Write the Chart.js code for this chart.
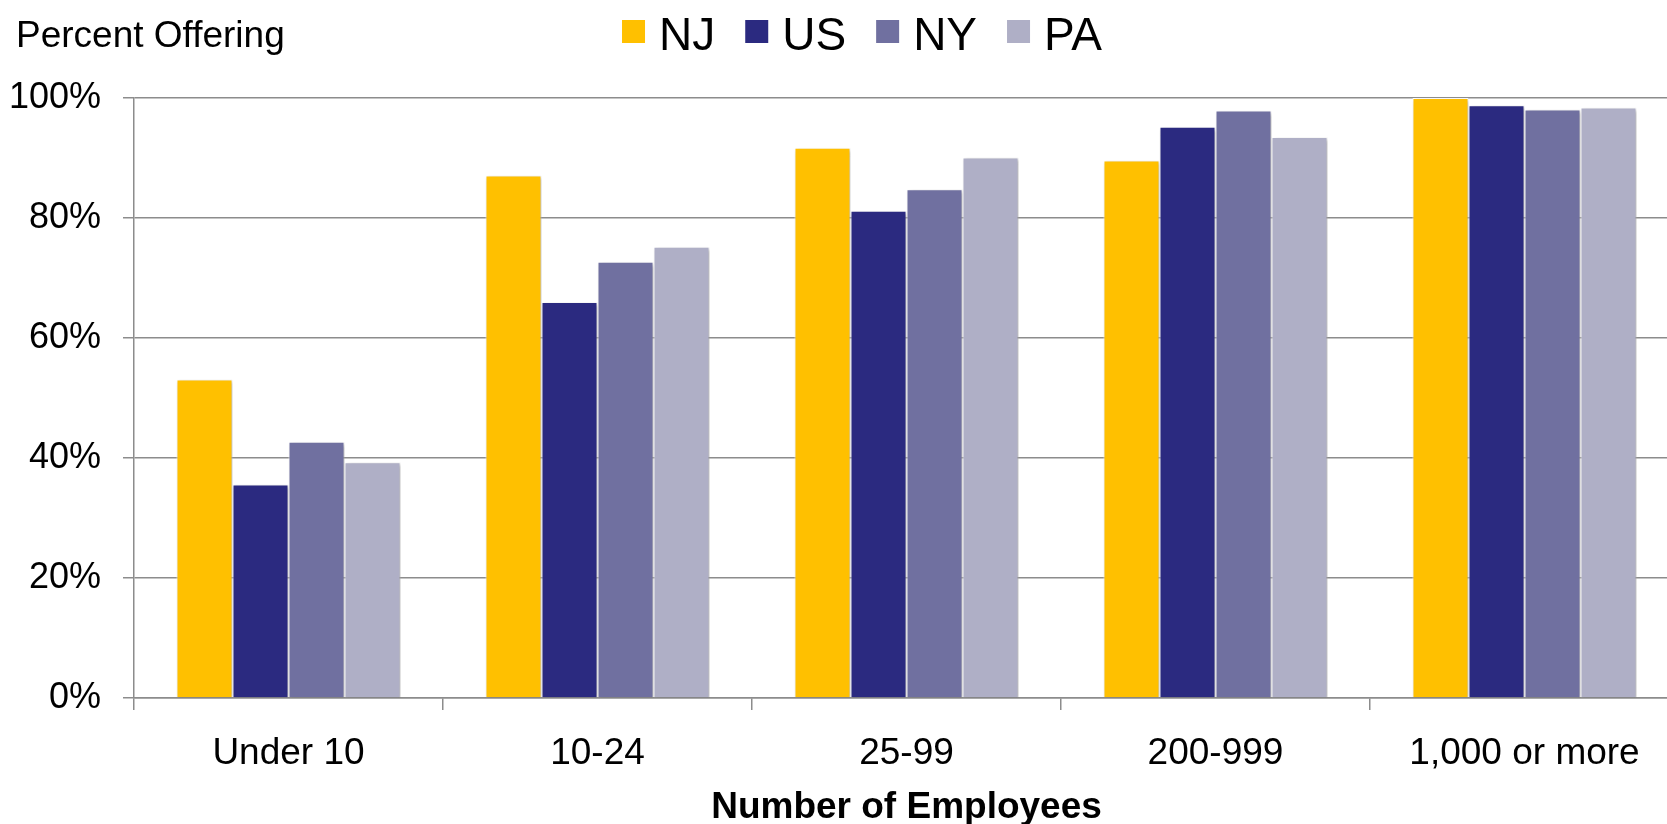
<!DOCTYPE html>
<html>
<head>
<meta charset="utf-8">
<script src="https://cdn.jsdelivr.net/npm/chart.js@4.4.1/dist/chart.umd.min.js"></script>
<style>
  html, body { margin: 0; padding: 0; background: #fff; overflow: hidden; }
  #wrap { width: 1716px; height: 824px; }
</style>
</head>
<body>
<div id="wrap"><canvas id="myChart" width="1716" height="824"></canvas></div>
<script>
const ctx = document.getElementById('myChart');

// categories + series (percent offering)
const categories = ['Under 10', '10-24', '25-99', '200-999', '1,000 or more'];
const nj = [53.1, 87.1, 91.7, 89.6, 100];
const us = [35.6, 66.0, 81.2, 95.2, 98.8];
const ny = [42.7, 72.7, 84.8, 97.9, 98.1];
const pa = [39.3, 75.2, 90.1, 93.5, 98.4];
const yTicks = [0, 20, 40, 60, 80, 100];

const fontFamily = '"Liberation Sans", Arial, sans-serif';
const gridColor = '#8c8c8c';

function makeSet(label, values, color) {
  return {
    label: label,
    data: values,
    backgroundColor: color,
    borderColor: '#ffffff',
    borderWidth: { top: 1, left: 1, right: 1, bottom: 0 },
    borderSkipped: false,
    categoryPercentage: 0.725,
    barPercentage: 1.0
  };
}

// soft drop shadow under the bars
const barShadow = {
  id: 'barShadow',
  beforeDatasetsDraw(chart) {
    const c = chart.ctx;
    c.save();
    c.shadowColor = 'rgba(0,0,0,0.28)';
    c.shadowBlur = 4;
    c.shadowOffsetX = 2;
    c.shadowOffsetY = 2;
  },
  afterDatasetsDraw(chart) {
    chart.ctx.restore();
  }
};

// legend row (box close to its text, like the original) + "Percent Offering"
const topTexts = {
  id: 'topTexts',
  afterDraw(chart) {
    const c = chart.ctx;
    c.save();
    c.fillStyle = '#000';
    c.textAlign = 'left';
    c.textBaseline = 'alphabetic';
    c.font = '37px ' + fontFamily;
    c.fillText('Percent Offering', 16, 47);

    const box = 23, gap = 14, itemGap = 30, baseY = 50;
    c.font = '46px ' + fontFamily;
    const sets = chart.data.datasets;
    let total = 0;
    sets.forEach((ds, i) => {
      total += box + gap + c.measureText(ds.label).width + (i ? itemGap : 0);
    });
    let x = 862 - total / 2;
    sets.forEach(ds => {
      c.fillStyle = ds.backgroundColor;
      c.fillRect(x, 20, box, box);
      c.fillStyle = '#000';
      c.fillText(ds.label, x + box + gap, baseY);
      x += box + gap + c.measureText(ds.label).width + itemGap;
    });
    c.restore();
  }
};

let cc = new Chart(ctx, {
  type: 'bar',
  data: {
    labels: categories,
    datasets: [
      makeSet('NJ', nj, '#ffc000'),
      makeSet('US', us, '#2b2a80'),
      makeSet('NY', ny, '#7070a0'),
      makeSet('PA', pa, '#afafc6')
    ]
  },
  options: {
    responsive: false,
    animation: false,
    devicePixelRatio: 1,
    layout: { padding: { left: 8, right: 37, top: 98, bottom: 0 } },
    plugins: {
      legend: { display: false },
      tooltip: { enabled: false }
    },
    scales: {
      x: {
        afterFit(axis) { axis.height = 126; },
        grid: {
          display: true,
          drawOnChartArea: false,
          drawTicks: true,
          tickLength: 12,
          color: gridColor,
          lineWidth: 1.5
        },
        border: { display: true, color: gridColor, width: 1.5 },
        ticks: {
          color: '#000',
          font: { family: fontFamily, size: 37 },
          padding: 22,
          maxRotation: 0,
          autoSkip: false
        },
        title: {
          display: true,
          text: 'Number of Employees',
          color: '#000',
          font: { family: fontFamily, size: 37, weight: 'bold', lineHeight: 1.0 },
          padding: { top: 13, bottom: -2 }
        }
      },
      y: {
        min: 0,
        max: 100,
        afterFit(axis) { axis.width = 126; },
        afterBuildTicks(axis) {
          axis.ticks = yTicks.map(v => ({ value: v }));
        },
        grid: {
          color: gridColor,
          lineWidth: 1.5,
          drawTicks: true,
          tickLength: 11
        },
        border: { display: true, color: gridColor, width: 1.5 },
        ticks: {
          color: '#000',
          font: { family: fontFamily, size: 36 },
          padding: 22,
          callback: v => v + '%'
        }
      }
    }
  },
  plugins: [barShadow, topTexts]
});
</script>
</body>
</html>
